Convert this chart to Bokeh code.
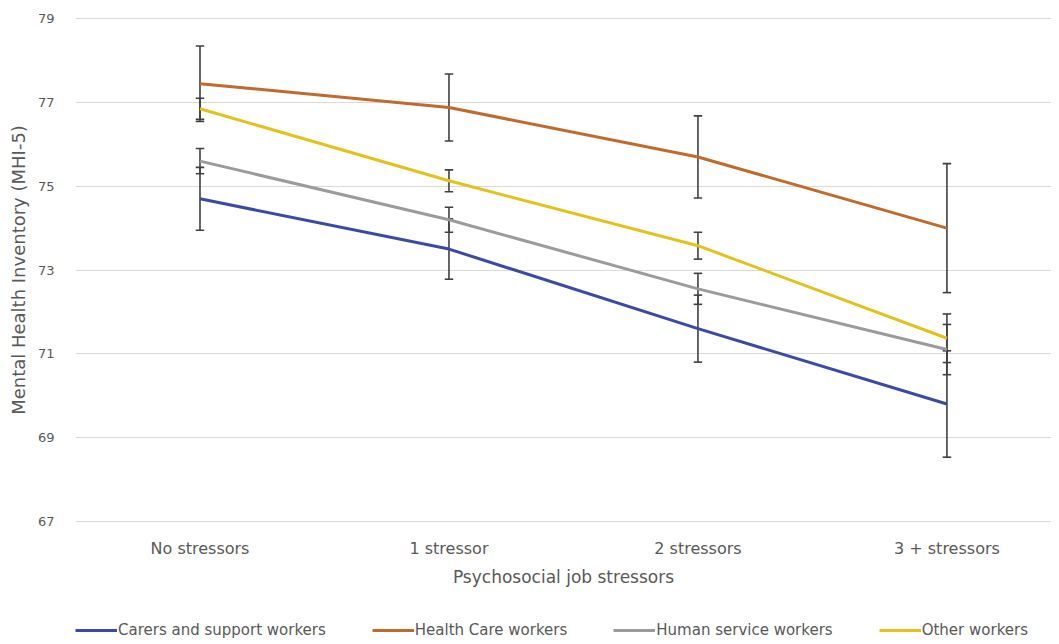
from bokeh.plotting import figure
from bokeh.layouts import column
from bokeh.models import ColumnDataSource, Range1d, FixedTicker, Legend, LegendItem
from bokeh.embed import file_html
from bokeh.resources import INLINE

categories = ["No stressors", "1 stressor", "2 stressors", "3 + stressors"]
y_ticks = [67, 69, 71, 73, 75, 77, 79]

carers = [74.7, 73.5, 71.6, 69.8]
carers_err = [0.75, 0.72, 0.8, 1.27]
health = [77.45, 76.88, 75.7, 74.0]
health_err = [0.9, 0.8, 0.98, 1.54]
human = [75.6, 74.2, 72.55, 71.1]
human_err = [0.3, 0.3, 0.37, 0.6]
other = [76.85, 75.13, 73.58, 71.37]
other_err = [0.25, 0.26, 0.32, 0.58]

series = [
    ("Carers and support workers", carers, carers_err, "#3a4aa6"),
    ("Health Care workers", health, health_err, "#c2692d"),
    ("Human service workers", human, human_err, "#9b9b9b"),
    ("Other workers", other, other_err, "#e4c21c"),
]

FONT = "DejaVu Sans"
TXT = "#595959"

p = figure(frame_width=976, frame_height=505, output_backend="svg", toolbar_location=None,
           x_range=Range1d(-0.5, 3.42), y_range=Range1d(66.97, 79.03),
           min_border_left=75, min_border_top=17, min_border_right=0, min_border_bottom=95)
p.outline_line_color = None
p.background_fill_color = "white"

xs = list(range(len(categories)))

# error bars first
cap = 0.017
for name, vals, errs, col in series:
    lo = [v - e for v, e in zip(vals, errs)]
    hi = [v + e for v, e in zip(vals, errs)]
    src = ColumnDataSource(dict(x=xs, lo=lo, hi=hi,
                                xl=[x - cap for x in xs], xr=[x + cap for x in xs]))
    p.segment(x0="x", y0="lo", x1="x", y1="hi", source=src, line_color="#404040", line_width=1.6)
    p.segment(x0="xl", y0="lo", x1="xr", y1="lo", source=src, line_color="#404040", line_width=1.6)
    p.segment(x0="xl", y0="hi", x1="xr", y1="hi", source=src, line_color="#404040", line_width=1.6)

for name, vals, errs, col in series:
    p.line(xs, vals, line_color=col, line_width=3)

# axes
p.xaxis.ticker = FixedTicker(ticks=xs)
p.xaxis.major_label_overrides = {i: c for i, c in enumerate(categories)}
p.yaxis.ticker = FixedTicker(ticks=y_ticks)
for ax in (p.xaxis[0], p.yaxis[0]):
    ax.axis_line_color = None
    ax.major_tick_line_color = None
    ax.minor_tick_line_color = None
    ax.major_label_text_font = FONT
    ax.major_label_text_color = TXT
    ax.axis_label_text_font = FONT
    ax.axis_label_text_color = TXT
    ax.axis_label_text_font_style = "normal"
p.xaxis.major_label_text_font_size = "16px"
p.yaxis.major_label_text_font_size = "13px"
p.xaxis.axis_label_text_font_size = "17px"
p.yaxis.axis_label_text_font_size = "18px"

p.xaxis.axis_label = "Psychosocial job stressors"
p.yaxis.axis_label = "Mental Health Inventory (MHI-5)"
p.xaxis.major_label_standoff = 10
p.xaxis.axis_label_standoff = 6
p.yaxis.major_label_standoff = 15
p.yaxis.axis_label_standoff = 6

p.xgrid.grid_line_color = None
p.ygrid.ticker = FixedTicker(ticks=y_ticks)
p.ygrid.grid_line_color = "#d9d9d9"
p.ygrid.grid_line_width = 1

# separate strip for the legend below the chart (series lie outside its 0..1 range)
lg = figure(width=1051, height=24, output_backend="svg", toolbar_location=None,
            x_range=Range1d(0, 1), y_range=Range1d(0, 1),
            x_axis_type=None, y_axis_type=None,
            min_border_left=0, min_border_right=0, min_border_top=0, min_border_bottom=0)
lg.outline_line_color = None
lg.xgrid.visible = False
lg.ygrid.visible = False
items = []
for name, vals, errs, col in series:
    r = lg.line(xs, vals, line_color=col, line_width=3)
    items.append(LegendItem(label=name, renderers=[r]))
legend = Legend(items=items, orientation="horizontal", location=(0, 2),
                label_text_font=FONT, label_text_font_size="15px", label_text_color=TXT,
                glyph_width=42, glyph_height=14, label_standoff=1, spacing=46,
                border_line_color=None, background_fill_alpha=0, padding=0, margin=0)
lg.add_layout(legend, "center")

layout = column(p, lg, spacing=0)
open("out.html", "w").write(file_html(layout, INLINE))
